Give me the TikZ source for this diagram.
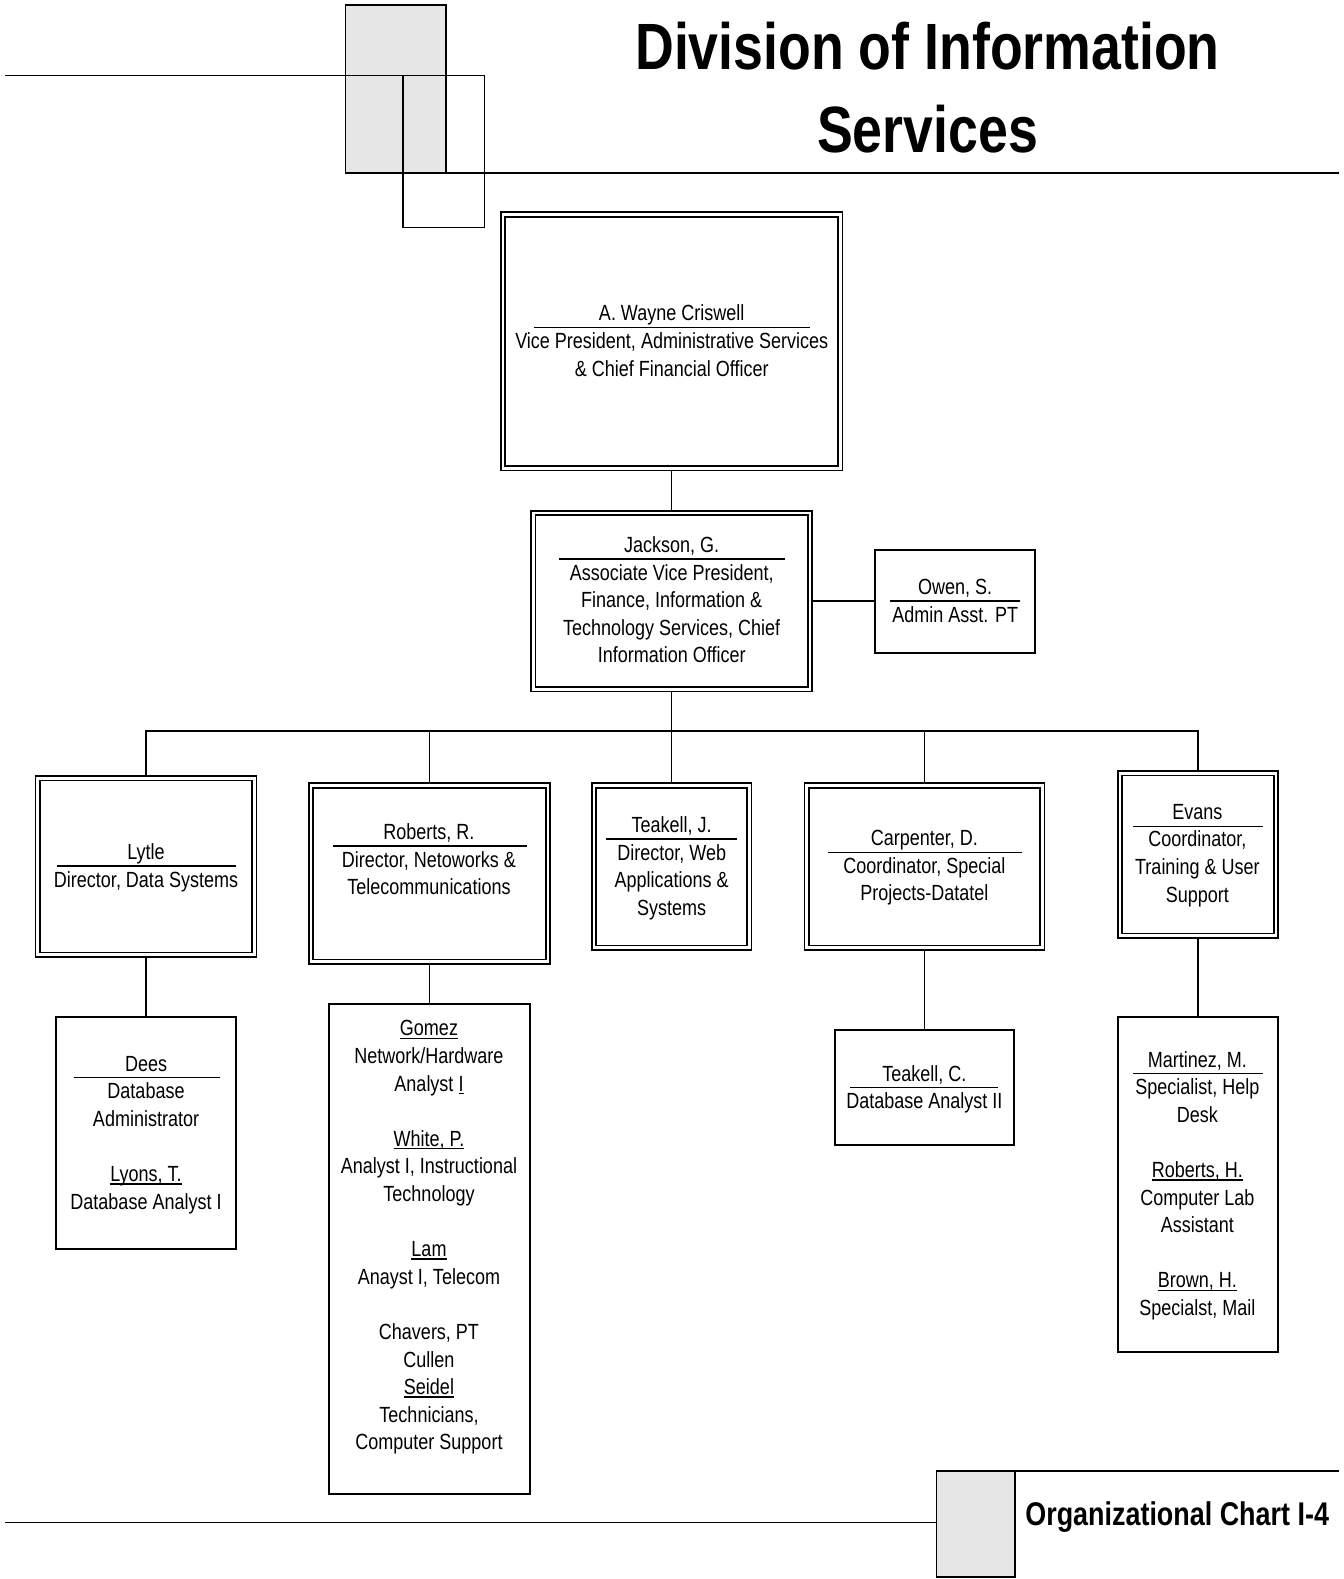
\documentclass[tikz,border=0pt]{standalone}
\usepackage{fontspec}
\setmainfont{Liberation Sans}[FakeStretch=0.82]
\definecolor{lgray}{HTML}{E6E6E6}
\newcommand\myul[1]{\setbox0=\hbox{#1}\rlap{\rule[-3pt]{\wd0}{1.2pt}}\box0}
\newcommand\bodyfont{\fontsize{21.8}{27.4}\selectfont}
\newcommand\gap{\\[27.4pt]}
\begin{document}
\begin{tikzpicture}[x=1pt,y=-1pt,
  dbox/.style={draw, line width=1.7pt, double, double distance=2.6pt, outer sep=3pt, inner sep=0pt},
  sbox/.style={draw, line width=2pt, inner sep=0pt},
  txt/.style={anchor=north, inner sep=0pt, align=center, font=\bodyfont},
  conn/.style={line width=1.5pt},
  sep/.style={line width=1.5pt},
  deco/.style={line width=1.6pt}]
\useasboundingbox (0,0) rectangle (1334,1568);

% top decoration
\draw[deco, fill=lgray] (343,5) rectangle (443,172);
\draw[deco] (5,75) -- (481,75);
\draw[deco] (400,75) rectangle (481,226);
\draw[line width=2.4pt] (343,172) -- (1330,172);
\node[anchor=north, inner sep=0pt, align=center, font=\fontsize{65}{82}\selectfont\bfseries] (title) at (921,11.6) {\strut Division of Information\\Services};

% bottom decoration
\draw[deco] (5,1512) -- (930,1512);
\draw[deco, fill=lgray] (930,1461) rectangle (1008,1566);
\draw[line width=2pt] (1008,1461) -- (1330,1461);
\node[anchor=base west, inner sep=0pt, font=\fontsize{32.6}{38}\selectfont\bfseries] (chart) at (1018,1515) {Organizational Chart I-4};

% boxes
\node[dbox, minimum width=335pt, minimum height=252pt] (cris) at (667,339) {};
\node[dbox, minimum width=275pt, minimum height=175pt] (jack) at (667,597) {};
\node[sbox, minimum width=159pt, minimum height=102pt] (owen) at (948.5,597) {};
\node[dbox, minimum width=215pt, minimum height=175pt] (lytle) at (145,860.5) {};
\node[dbox, minimum width=235pt, minimum height=175pt] (rob) at (426.5,867.5) {};
\node[dbox, minimum width=154pt, minimum height=161pt] (teakj) at (667,860.5) {};
\node[dbox, minimum width=234pt, minimum height=161pt] (carp) at (918,860.5) {};
\node[dbox, minimum width=155pt, minimum height=161pt] (evans) at (1189.5,848.5) {};
\node[sbox, minimum width=178pt, minimum height=230pt] (dees) at (145,1125) {};
\node[sbox, minimum width=199pt, minimum height=487pt] (gomez) at (426.5,1240.5) {};
\node[sbox, minimum width=178pt, minimum height=114pt] (teakc) at (918,1080) {};
\node[sbox, minimum width=159pt, minimum height=333pt] (mart) at (1189.5,1176.5) {};

% texts
\node[txt] (crist) at (667,299.3) {\strut A. Wayne Criswell\\Vice President, Administrative Services\\\& Chief Financial Officer};
\draw[sep] (530,325) -- (804,325);
\node[txt] (jackt) at (667,529.3) {\strut Jackson, G.\\Associate Vice President,\\Finance, Information \&\\Technology Services, Chief\\Information Officer};
\draw[sep] (555,555) -- (780,555);
\node[txt] (owent) at (948.5,571.3) {\strut Owen, S.\\Admin Asst. PT};
\draw[sep] (884,597) -- (1013,597);
\node[txt] (lytlet) at (145,834.3) {\strut Lytle\\Director, Data Systems};
\draw[sep] (57,860) -- (234,860);
\node[txt] (robt) at (426,814.3) {\strut Roberts, R.\\Director, Netoworks \&\\Telecommunications};
\draw[sep] (331,840) -- (523,840);
\node[txt] (teakjt) at (667,807.3) {\strut Teakell, J.\\Director, Web\\Applications \&\\Systems};
\draw[sep] (602,833) -- (732,833);
\node[txt] (carpt) at (918,820.3) {\strut Carpenter, D.\\Coordinator, Special\\Projects-Datatel};
\draw[sep] (822,846.5) -- (1015,846.5);
\node[txt] (evanst) at (1189,794.3) {\strut Evans\\Coordinator,\\Training \& User\\Support};
\draw[sep] (1125,820.5) -- (1254,820.5);
\node[txt] (deest) at (145,1044.3) {\strut Dees\\Database\\Administrator\gap\myul{Lyons, T.}\\Database Analyst I};
\draw[sep] (73,1070) -- (218,1070);
\node[txt] (gomezt) at (426,1009.3) {\strut\myul{Gomez}\\Network/Hardware\\Analyst \myul{I}\gap\myul{White, P.}\\Analyst I, Instructional\\Technology\gap\myul{Lam}\\Anayst I, Telecom\gap Chavers, PT\\Cullen\\\myul{Seidel}\\Technicians,\\Computer Support};
\node[txt] (teakct) at (918,1054.3) {\strut Teakell, C.\\Database Analyst II};
\draw[sep] (844,1080) -- (991,1080);
\node[txt] (martt) at (1189,1040.3) {\strut Martinez, M.\\Specialist, Help\\Desk\gap\myul{Roberts, H.}\\Computer Lab\\Assistant\gap\myul{Brown, H.}\\Specialst, Mail};
\draw[sep] (1125,1066) -- (1254,1066);

% connectors
\coordinate (bus) at (667,726);
\draw[conn] (cris.south) -- (jack.north);
\draw[conn] (jack.east) -- (owen.west);
\draw[conn] (jack.south) -- (bus);
\draw[conn] (lytle.north) |- (bus) -| (evans.north);
\draw[conn] (rob.north) -- (rob.north |- bus);
\draw[conn] (teakj.north) -- (teakj.north |- bus);
\draw[conn] (carp.north) -- (carp.north |- bus);
\draw[conn] (lytle.south) -- (dees.north);
\draw[conn] (rob.south) -- (gomez.north);
\draw[conn] (carp.south) -- (teakc.north);
\draw[conn] (evans.south) -- (mart.north);
\end{tikzpicture}
\end{document}
